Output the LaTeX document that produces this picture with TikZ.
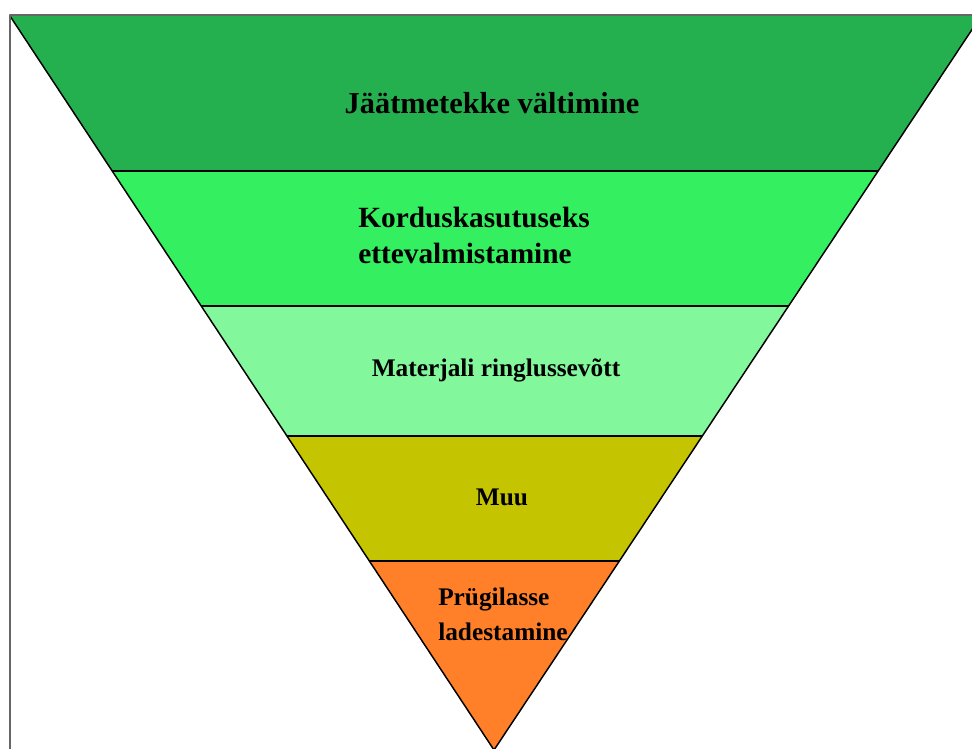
\documentclass[tikz,border=0pt]{standalone}
\usepackage{fontspec}
\setmainfont{Liberation Serif}
\usepackage{xcolor}
\definecolor{avoidgreen}{RGB}{37,176,80}
\definecolor{reusegreen}{RGB}{52,240,96}
\definecolor{recyclegreen}{RGB}{130,247,155}
\definecolor{otherolive}{RGB}{196,196,0}
\definecolor{landfillorange}{RGB}{255,128,40}

\begin{document}
\begin{tikzpicture}[x=0.75pt,y=-0.75pt,line join=round,
  frame/.style={draw=black!60,line width=1.5pt},
  cut/.style={draw=black,line width=1.1pt},
  lvltop/.style={font=\bfseries\fontsize{22.8}{27}\selectfont,inner sep=0pt},
  lvlbig/.style={font=\bfseries\fontsize{22}{27}\selectfont,inner sep=0pt},
  lvlsmall/.style={font=\bfseries\fontsize{19}{26}\selectfont,inner sep=0pt}]
\useasboundingbox (0,0) rectangle (972,749);
% bands, clipped to the funnel
\begin{scope}
\clip (10,16) -- (981,16) -- (494,750) -- cycle;
\fill[avoidgreen] (0,16) rectangle (990,171);
\fill[reusegreen] (0,171) rectangle (990,306);
\fill[recyclegreen] (0,306) rectangle (990,436);
\fill[otherolive] (0,436) rectangle (990,561);
\fill[landfillorange] (0,561) rectangle (990,750);
\draw[cut] (0,171) -- (990,171);
\draw[cut] (0,306) -- (990,306);
\draw[cut] (0,436) -- (990,436);
\draw[cut] (0,561) -- (990,561);
\end{scope}
\draw[cut] (10,16) -- (494,750) -- (981,16);
% outer frame
\draw[frame] (10,749) -- (10,15) -- (972,15);
% labels
\node[lvltop] (avoid) at (492,103) {Jäätmetekke vältimine};
\node[lvlbig,anchor=west,align=left] (reuse) at (358,235) {Korduskasutuseks\\ettevalmistamine};
\node[lvlsmall] (recycle) at (496,370) {Materjali ringlussevõtt};
\node[lvlsmall] (other) at (502,497) {Muu};
\node[lvlsmall,anchor=west,align=left] (landfill) at (438,614) {Prügilasse\\ladestamine};
\end{tikzpicture}
\end{document}
